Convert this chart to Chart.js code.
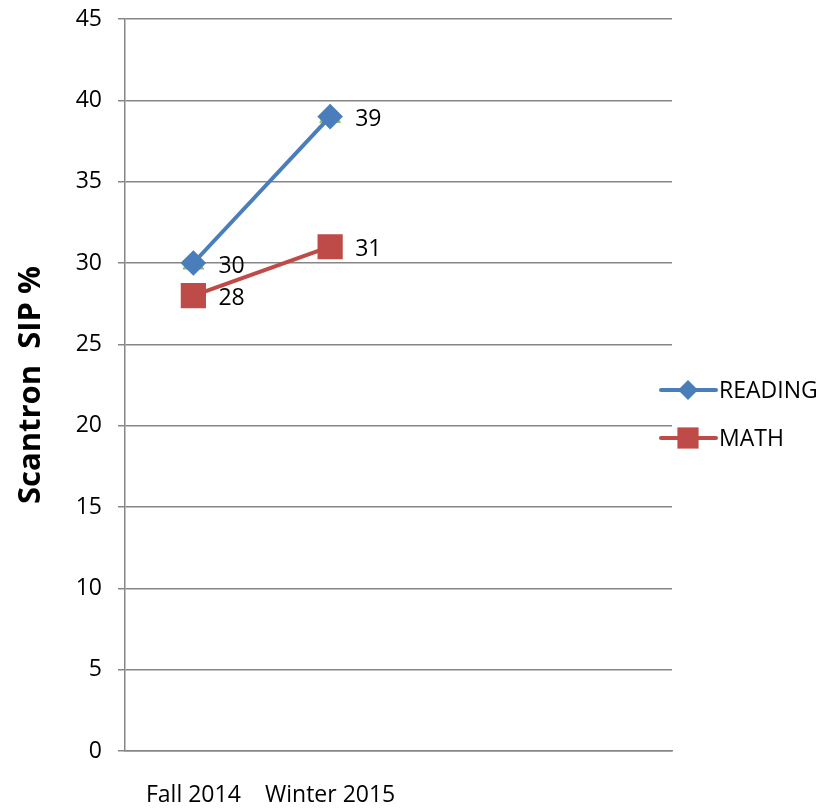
<!DOCTYPE html>
<html>
<head>
<meta charset="utf-8">
<script src="https://cdn.jsdelivr.net/npm/chart.js@4.4.1/dist/chart.umd.min.js"></script>
<style>
  html, body { margin: 0; padding: 0; background: #fff; }
  #wrap { width: 840px; height: 808px; }
</style>
</head>
<body>
<div id="wrap"><canvas id="chart" width="840" height="808"></canvas></div>
<script>
const terms = ['Fall 2014', 'Winter 2015', '', '']
const reading = [30, 39, null, null]
const math = [28, 31, null, null]
const hiddenSeries = [30, 39, null, null]
const yTicks = [0, 5, 10, 15, 20, 25, 30, 35, 40, 45]

const BLUE = '#4a7ebb'
const RED = '#be4b48'
const GREEN = '#9bbb59'
const GRID = '#868686'

// value labels right of each point
const valueLabels = {
  id: 'valueLabels',
  afterDatasetsDraw (chart) {
    const ctx = chart.ctx
    ctx.save()
    ctx.font = '23px "Open Sans"'
    ctx.fillStyle = '#000'
    ctx.textBaseline = 'middle'
    ctx.textAlign = 'left'
    chart.data.datasets.forEach((ds, i) => {
      if (!ds.showValues) return
      chart.getDatasetMeta(i).data.forEach((pt, j) => {
        if (ds.data[j] == null) return
        ctx.fillText(String(ds.data[j]), pt.x + 25, pt.y + 3)
      })
    })
    ctx.restore()
  }
}

// legend on the right, drawn over the plot edge like the original
const sideLegend = {
  id: 'sideLegend',
  afterDraw (chart) {
    const ctx = chart.ctx
    const items = chart.data.datasets.filter((ds) => ds.inLegend)
    ctx.save()
    items.forEach((ds, i) => {
      const y = 390 + i * 48
      const cx = 688
      const r = ds.pointRadius
      ctx.strokeStyle = ds.borderColor
      ctx.lineWidth = 4
      ctx.lineCap = 'round'
      ctx.beginPath()
      ctx.moveTo(661, y)
      ctx.lineTo(716, y)
      ctx.stroke()
      ctx.fillStyle = ds.backgroundColor
      ctx.beginPath()
      if (ds.pointStyle === 'rect') {
        const s = Math.SQRT1_2 * r
        ctx.rect(cx - s, y - s, 2 * s, 2 * s)
      } else {
        ctx.moveTo(cx - r, y); ctx.lineTo(cx, y - r); ctx.lineTo(cx + r, y); ctx.lineTo(cx, y + r)
        ctx.closePath()
      }
      ctx.fill()
      ctx.fillStyle = '#000'
      ctx.font = '23px "Open Sans"'
      ctx.textBaseline = 'middle'
      ctx.fillText(ds.label, 719, y + 1)
    })
    ctx.restore()
  }
}

new Chart(document.getElementById('chart'), {
  type: 'line',
  data: {
    labels: terms,
    datasets: [
      {
        label: '',
        data: hiddenSeries,
        borderColor: GREEN,
        backgroundColor: GREEN,
        pointStyle: 'triangle',
        pointRadius: 12,
        showLine: false,
        order: 3
      },
      {
        label: 'READING',
        data: reading,
        borderColor: BLUE,
        backgroundColor: BLUE,
        borderWidth: 4,
        pointStyle: 'rectRot',
        pointRadius: 10,
        showValues: true,
        inLegend: true,
        order: 1
      },
      {
        label: 'MATH',
        data: math,
        borderColor: RED,
        backgroundColor: RED,
        borderWidth: 4,
        pointStyle: 'rect',
        pointRadius: 15,
        showValues: true,
        inLegend: true,
        order: 2
      }
    ]
  },
  options: {
    responsive: false,
    animation: false,
    events: [],
    layout: { padding: { left: 0, right: 168, top: 18, bottom: 0 } },
    plugins: {
      legend: { display: false },
      tooltip: { enabled: false }
    },
    scales: {
      x: {
        offset: true,
        grid: { display: false, drawTicks: false },
        border: { display: true, color: GRID, width: 1.5 },
        ticks: {
          color: '#000',
          font: { family: '"Open Sans"', size: 23 },
          padding: 31,
          maxRotation: 0,
          autoSkip: false
        },
        afterFit (scale) {
          scale.height = 57
          scale.paddingLeft = 0
          scale.paddingRight = 0
        }
      },
      y: {
        min: 0,
        max: 45,
        afterBuildTicks (scale) { scale.ticks = yTicks.map((v) => ({ value: v })) },
        grid: { color: GRID, lineWidth: 1.5, tickLength: 7 },
        border: { display: true, color: GRID, width: 1.5 },
        ticks: {
          color: '#000',
          font: { family: '"Open Sans"', size: 23 },
          padding: 16
        },
        title: {
          display: true,
          text: 'Scantron  SIP %',
          color: '#000',
          font: { family: '"Open Sans"', size: 31, weight: 'bold' },
          padding: { top: 13, bottom: 0 }
        },
        afterFit (scale) {
          scale.width = 125
          scale.paddingTop = 0
          scale.paddingBottom = 0
        }
      }
    }
  },
  plugins: [valueLabels, sideLegend]
})
</script>
</body>
</html>
